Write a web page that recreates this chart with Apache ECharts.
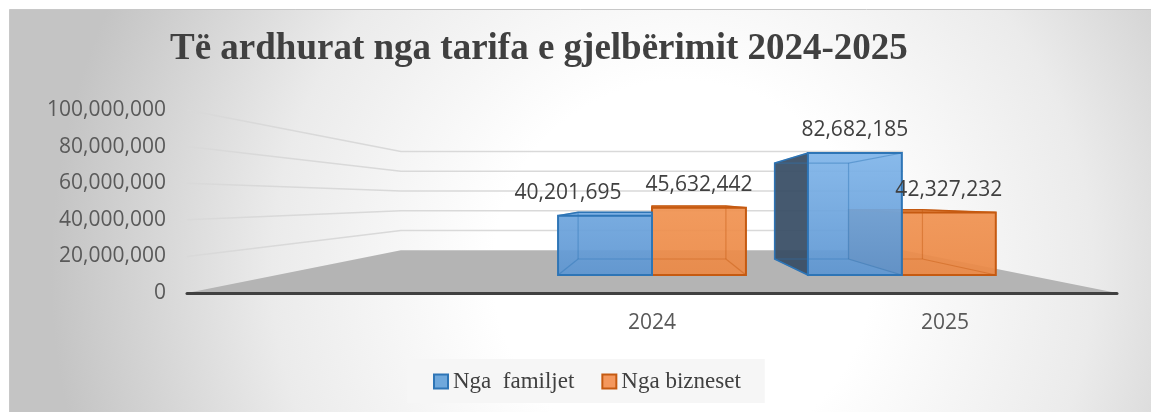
<!DOCTYPE html>
<html>
<head>
<meta charset="utf-8">
<title>Të ardhurat nga tarifa e gjelbërimit 2024-2025</title>
<script src="https://cdn.jsdelivr.net/npm/echarts@6/dist/echarts.min.js"></script>
<style>
  html, body { margin: 0; padding: 0; background: #fff; }
  #main { width: 1151px; height: 412px; }
</style>
</head>
<body>
<div id="main"></div>
<script>
const categories = ['', '2024', '2025'];
const familjet = [null, 40201695, 82682185];
const bizneset = [null, 45632442, 42327232];
const yTicks = [0, 20000000, 40000000, 60000000, 80000000, 100000000];

// perspective of the Excel 3-D look
const EYE = 0.508;       // height of the vanishing point, part of the value axis
const S_WALL = 0.54;     // back wall scale
const S_FRONT = 0.806;   // column front face scale
const S_BACK = 0.634;    // column back face scale
const BAR_SHARE = 0.376; // one column's width as part of a category band

const LABEL_FONT = '21px "Open Sans"';
const fmt = v => Number(v).toLocaleString('en-US');
const measureCtx = document.createElement('canvas').getContext('2d');
function textWidth(s) {
  measureCtx.font = LABEL_FONT;
  return measureCtx.measureText(s).width;
}

function eye(api) {
  const a = api.coord([0, yTicks[0]]);
  const c = api.coord([categories.length - 1, yTicks[yTicks.length - 1]]);
  const band = api.size([1, 0])[0];
  const left = a[0] - band / 2, right = c[0] + band / 2;
  return { x: (left + right) / 2, y: a[1] + (c[1] - a[1]) * EYE, left, right };
}
function proj(vp, x, y, s) {
  return [vp.x + (x - vp.x) * s, vp.y + (y - vp.y) * s];
}
function box(api, i, v, side) {
  const vp = eye(api);
  const band = api.size([1, 0])[0];
  const cx = api.coord([i, 0])[0];
  const w = band * BAR_SHARE;
  const x1 = side < 0 ? cx - w : cx, x2 = x1 + w;
  const yb = api.coord([i, 0])[1], yt = api.coord([i, v])[1];
  const F = (x, y) => proj(vp, x, y, S_FRONT);
  const B = (x, y) => proj(vp, x, y, S_BACK);
  return {
    vp, x1, x2, yt,
    fbl: F(x1, yb), fbr: F(x2, yb), ftl: F(x1, yt), ftr: F(x2, yt),
    bbl: B(x1, yb), bbr: B(x2, yb), btl: B(x1, yt), btr: B(x2, yt)
  };
}

function renderWalls(params, api) {
  const vp = eye(api);
  const y0 = api.coord([0, 0])[1];
  const children = [{
    type: 'polygon',
    shape: { points: [[vp.left, y0], [vp.right, y0], proj(vp, vp.right, y0, S_WALL), proj(vp, vp.left, y0, S_WALL)] },
    style: { fill: '#b4b4b4' }
  }];
  yTicks.slice(1).forEach(t => {
    const y = api.coord([0, t])[1];
    children.push({
      type: 'polyline',
      shape: { points: [[vp.left, y], proj(vp, vp.left, y, S_WALL), proj(vp, vp.right, y, S_WALL)] },
      style: { stroke: '#d9d9d9', lineWidth: 1.5, fill: null }
    });
  });
  return { type: 'group', silent: true, children };
}

function makeBars(side, pal) {
  return function (params, api) {
    const v = api.value(1);
    if (v == null || isNaN(v)) return null;
    const b = box(api, api.value(0), v, side);
    const top = api.coord([0, yTicks[yTicks.length - 1]])[1];
    const bottom = api.coord([0, 0])[1];
    const children = [];
    if (b.x1 > b.vp.x + 1) {
      children.push({ type: 'polygon', shape: { points: [b.ftl, b.fbl, b.bbl, b.btl] },
        style: { fill: pal.side, stroke: pal.edge, lineWidth: 1.5 } });
    }
    if (b.x2 < b.vp.x - 1) {
      children.push({ type: 'polygon', shape: { points: [b.ftr, b.fbr, b.bbr, b.btr] },
        style: { fill: pal.side, stroke: pal.edge, lineWidth: 1.5 } });
    }
    if (b.yt > b.vp.y) {
      children.push({ type: 'polygon', shape: { points: [b.ftl, b.ftr, b.btr, b.btl] },
        style: { fill: pal.top, stroke: pal.edge, lineWidth: 1.5 } });
    }
    children.push({
      type: 'polygon', shape: { points: [b.ftl, b.ftr, b.fbr, b.fbl] },
      style: {
        fill: new echarts.graphic.LinearGradient(0, top, 0, bottom, [
          { offset: 0, color: pal.light }, { offset: 1, color: pal.dark }
        ], true)
      }
    });
    // edges seen through the glass
    [[b.btl, b.btr], [b.btr, b.bbr], [b.bbr, b.bbl], [b.bbl, b.btl],
     [b.ftl, b.btl], [b.ftr, b.btr], [b.fbl, b.bbl], [b.fbr, b.bbr]].forEach(seg => {
      children.push({ type: 'line', shape: { x1: seg[0][0], y1: seg[0][1], x2: seg[1][0], y2: seg[1][1] },
        style: { stroke: pal.edge, lineWidth: 1.2, opacity: 0.45 } });
    });
    children.push({
      type: 'polygon', shape: { points: [b.ftl, b.ftr, b.fbr, b.fbl] },
      style: { fill: null, stroke: pal.edge, lineWidth: 2 }
    });
    return { type: 'group', children };
  };
}

function labelSpot(api, i, v, side) {
  const b = box(api, i, v, side);
  const w = textWidth(fmt(v));
  return { x: (b.ftl[0] + b.ftr[0]) / 2, y: b.ftl[1] - 23, w };
}

function renderLabel(params, api) {
  const v = api.value(1);
  if (v == null || isNaN(v)) return null;
  const i = api.value(0), side = api.value(2);
  const p = labelSpot(api, i, v, side);
  // left label steps aside when it would run into its neighbour
  const other = side < 0 ? bizneset[i] : null;
  if (other != null) {
    const q = labelSpot(api, i, other, 1);
    if (Math.abs(p.y - q.y) < 26 && p.x + p.w / 2 > q.x - q.w / 2 - 24) {
      p.x = q.x - q.w / 2 - 24 - p.w / 2;
    }
  }
  return {
    type: 'text', x: p.x, y: p.y,
    style: {
      text: fmt(v), fill: '#404040', fontSize: 21, fontFamily: 'Open Sans',
      align: 'center', verticalAlign: 'middle'
    }
  };
}

const blue = {
  light: 'rgba(140,192,242,0.93)', dark: 'rgba(88,145,206,0.93)',
  side: 'rgba(55,76,100,0.93)', top: 'rgba(110,166,224,0.9)', edge: '#2e75b6'
};
const orange = {
  light: 'rgba(248,162,100,0.93)', dark: 'rgba(234,134,66,0.93)',
  side: 'rgba(170,85,25,0.92)', top: 'rgba(240,145,78,0.9)', edge: '#c55a11'
};

const labelData = familjet.map((v, i) => [i, v, -1]).concat(bizneset.map((v, i) => [i, v, 1]));

const myChart = echarts.init(document.getElementById('main'));
const option = {
  animation: false,
  graphic: [{
    type: 'rect', z: -10, silent: true,
    shape: { x: 9.5, y: 9.5, width: 1160, height: 420 },
    style: {
      fill: new echarts.graphic.RadialGradient(0.58, 0.62, 1.5, [
        { offset: 0, color: '#ffffff' },
        { offset: 0.3, color: '#ffffff' },
        { offset: 0.65, color: '#ebebeb' },
        { offset: 1, color: '#c4c4c4' }
      ]),
      stroke: '#c8c8c8', lineWidth: 1
    }
  }],
  title: {
    text: 'Të ardhurat nga tarifa e gjelbërimit 2024-2025',
    left: 165, top: 26,
    textStyle: { fontFamily: 'Liberation Serif', fontWeight: 'bold', fontSize: 37, color: '#404040' }
  },
  legend: {
    left: 407, top: 359,
    padding: [11, 24, 10, 26],
    backgroundColor: '#f6f6f6',
    itemWidth: 14, itemHeight: 14, itemGap: 27,
    icon: 'rect',
    textStyle: { fontFamily: 'Liberation Serif', fontSize: 23, color: '#404040' },
    data: [
      { name: 'Nga  familjet', itemStyle: { color: '#6fa8dc', borderColor: '#2e75b6', borderWidth: 2 } },
      { name: 'Nga bizneset', itemStyle: { color: '#f4975c', borderColor: '#c55a11', borderWidth: 2 } }
    ]
  },
  grid: { left: 187, right: 34, top: 110, bottom: 119, outerBoundsMode: 'none' },
  xAxis: {
    type: 'category',
    data: categories,
    z: 10,
    axisLine: { lineStyle: { color: '#404040', width: 3 } },
    axisTick: { show: false },
    axisLabel: {
      fontSize: 21, fontFamily: 'Open Sans', color: '#595959', margin: 20,
      formatter: v => (v === '2025' ? '{s|' + v + '}' : v),
      rich: { s: { fontSize: 21, fontFamily: 'Open Sans', color: '#595959', padding: [0, 34, 0, 0] } }
    }
  },
  yAxis: {
    type: 'value',
    min: 0, max: 100000000, interval: 20000000,
    axisLine: { show: false },
    axisTick: { show: false },
    splitLine: { show: false },
    axisLabel: { fontSize: 21, fontFamily: 'Open Sans', color: '#595959', margin: 21, formatter: fmt }
  },
  series: [
    {
      type: 'custom', z: 1, silent: true,
      renderItem: renderWalls,
      encode: { x: 0, y: 1 },
      data: [[0, 0]]
    },
    {
      name: 'Nga  familjet', type: 'custom', z: 3,
      itemStyle: { color: '#6fa8dc', borderColor: '#2e75b6' },
      renderItem: makeBars(-1, blue),
      encode: { x: 0, y: 1 },
      data: familjet.map((v, i) => [i, v])
    },
    {
      name: 'Nga bizneset', type: 'custom', z: 2,
      itemStyle: { color: '#f4975c', borderColor: '#c55a11' },
      renderItem: makeBars(1, orange),
      encode: { x: 0, y: 1 },
      data: bizneset.map((v, i) => [i, v])
    },
    {
      type: 'custom', z: 5, silent: true,
      renderItem: renderLabel,
      encode: { x: 0, y: 1 },
      data: labelData
    }
  ]
};
myChart.setOption(option);
</script>
</body>
</html>
